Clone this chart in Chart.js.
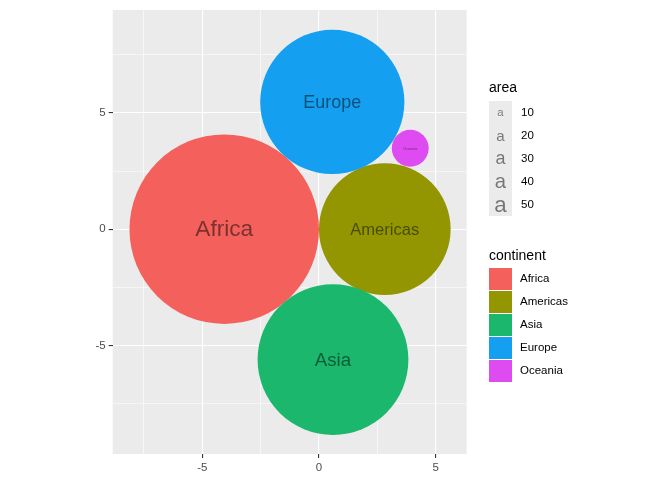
<!DOCTYPE html>
<html>
<head>
<meta charset="utf-8">
<script src="https://cdn.jsdelivr.net/npm/chart.js@4/dist/chart.umd.min.js"></script>
<style>
  html, body { margin: 0; padding: 0; background: #fff; }
  #wrap { position: relative; width: 672px; height: 480px; font-family: "Liberation Sans", Arial, sans-serif; }
  #chart { position: absolute; left: 0; top: 0; }
  .lg { position: absolute; white-space: nowrap; color: #000; }
  .ttl { font-size: 14px; line-height: 16px; }
  .lab { font-size: 11.5px; line-height: 23px; height: 23px; }
  .key { position: absolute; left: 489px; width: 23px; }
  .akey { text-align: center; color: rgba(0,0,0,0.5); overflow: visible; }
</style>
</head>
<body>
<div id="wrap">
  <canvas id="chart" width="672" height="480"></canvas>
  <div id="legend"></div>
</div>
<script>
// continents and their packed circles (centre in data units, area -> radius)
const continents = ['Africa', 'Americas', 'Asia', 'Europe', 'Oceania'];
const centerX = [-4.06, 2.82, 0.60, 0.57, 3.91];
const centerY = [0.00, 0.00, -5.61, 5.47, 3.48];
const areas = [51.8, 25.0, 32.8, 30.0, 1.96];
const fills = ['#F4605B', '#939600', '#1AB76D', '#149FF0', '#DE4BF0'];

const tickValues = [-7.5, -5, -2.5, 0, 2.5, 5, 7.5];
const majorTicks = [-5, 0, 5];
const areaBreaks = [10, 20, 30, 40, 50];

const areaMin = Math.min(...areas);
const areaMax = Math.max(...areas);

// ggplot style size scale: 1..6 mm by area, 1 mm ~ 3.78 px
function textSize(a) {
    const t = Math.max(0, (a - areaMin) / (areaMax - areaMin));
    return (1 + 5 * Math.sqrt(t)) * 3.78;
}

const points = continents.map((c, i) => ({ x: centerX[i], y: centerY[i] }));

const panelBg = {
    id: 'panelBg',
    beforeDraw(chart) {
        const { ctx, chartArea: a } = chart;
        ctx.save();
        ctx.fillStyle = '#EBEBEB';
        ctx.fillRect(a.left, a.top, a.right - a.left, a.bottom - a.top);
        ctx.restore();
    }
};

const circleLabels = {
    id: 'circleLabels',
    afterDatasetsDraw(chart) {
        const ctx = chart.ctx;
        const meta = chart.getDatasetMeta(0);
        ctx.save();
        ctx.textAlign = 'center';
        ctx.textBaseline = 'middle';
        ctx.fillStyle = 'rgba(0,0,0,0.5)';
        meta.data.forEach((el, i) => {
            ctx.font = textSize(areas[i]).toFixed(2) + 'px "Liberation Sans", Arial, sans-serif';
            ctx.fillText(continents[i], el.x, el.y + 1);
        });
        ctx.restore();
    }
};

function axisCommon(min, max) {
    return {
        type: 'linear',
        min: min,
        max: max,
        afterBuildTicks(scale) {
            scale.ticks = tickValues.map(v => ({ value: v }));
        },
        border: { display: false },
        grid: {
            color: '#FFFFFF',
            lineWidth: ctx => majorTicks.includes(ctx.tick && ctx.tick.value) ? 1.1 : 0.55,
            drawTicks: true,
            tickLength: 4,
            tickWidth: 1.1,
            tickColor: ctx => majorTicks.includes(ctx.tick && ctx.tick.value) ? '#333333' : 'rgba(0,0,0,0)'
        },
        ticks: {
            autoSkip: false,
            maxRotation: 0,
            padding: 3,
            color: '#4D4D4D',
            font: { family: '"Liberation Sans", Arial, sans-serif', size: 11.5 },
            callback: v => majorTicks.includes(v) ? String(v) : ''
        }
    };
}

const xAxis = axisCommon(-8.84, 6.33);
xAxis.afterFit = scale => { scale.height = 26; };
const yAxis = axisCommon(-9.67, 9.43);
yAxis.afterFit = scale => { scale.width = 112.7; };

new Chart(document.getElementById('chart'), {
    type: 'scatter',
    data: {
        datasets: [{
            data: points,
            showLine: false,
            pointBackgroundColor: fills,
            pointBorderWidth: 0,
            pointRadius: ctx => {
                const xs = ctx.chart.scales.x;
                const unit = xs.getPixelForValue(1) - xs.getPixelForValue(0);
                return Math.sqrt(areas[ctx.dataIndex] / Math.PI) * unit;
            }
        }]
    },
    options: {
        responsive: false,
        animation: false,
        devicePixelRatio: 1,
        events: [],
        layout: { padding: { left: 0, top: 7, right: 205.3, bottom: 0 } },
        plugins: { legend: { display: false }, tooltip: { enabled: false } },
        scales: { x: xAxis, y: yAxis }
    },
    plugins: [panelBg, circleLabels]
});

// legends, ggplot style
const legend = document.getElementById('legend');
function add(text, cls, style) {
    const d = document.createElement('div');
    d.className = cls;
    d.style.cssText = style;
    d.textContent = text;
    legend.appendChild(d);
    return d;
}

add('area', 'lg ttl', 'left:489px;top:79px;');
add('', 'key', 'top:101px;height:' + (areaBreaks.length * 23) + 'px;background:#EBEBEB;');
areaBreaks.forEach((b, i) => {
    const top = 101 + i * 23;
    add('a', 'key akey', 'top:' + top + 'px;height:23px;line-height:23px;font-size:' + textSize(b).toFixed(2) + 'px;');
    add(String(b), 'lg lab', 'left:521px;top:' + top + 'px;');
});

add('continent', 'lg ttl', 'left:489px;top:247px;');
continents.forEach((c, i) => {
    const top = 268 + i * 23;
    add('', 'key', 'top:' + top + 'px;height:21.5px;background:' + fills[i] + ';');
    add(c, 'lg lab', 'left:520px;top:' + (top - 0.7) + 'px;');
});
</script>
</body>
</html>
